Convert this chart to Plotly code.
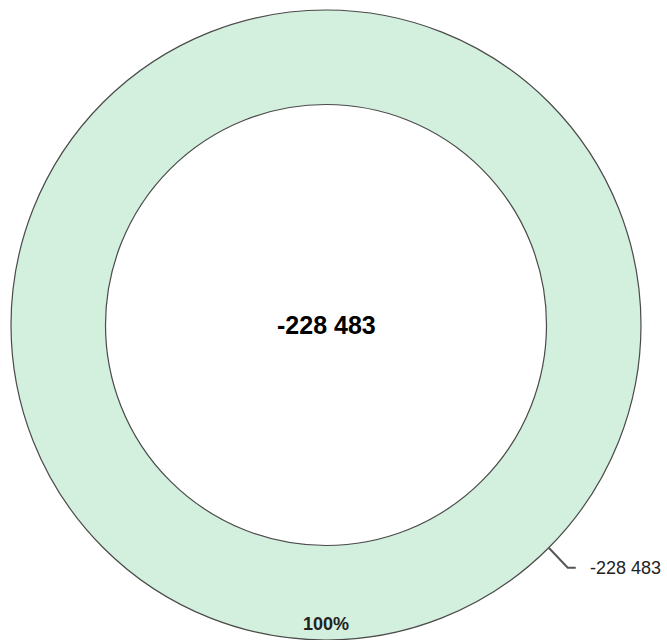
import math
import plotly.graph_objects as go

# ---- data ----
labels = ["Total"]
values = [-228483]
colors = ["#D3EFDD"]

# ---- layout geometry (pixels) ----
W, H = 667, 640
ML, MR, MT, MB = 10, 25, 10, 0
PW, PH = W - ML - MR, H - MT - MB
CX, CY = ML + PW / 2, MT + PH / 2
R = min(PW, PH) / 2
HOLE = 0.70


def fmt(v):
    s = f"{abs(v):,}".replace(",", " ")
    return ("-" if v < 0 else "") + s


def px(x, y):
    return (x - ML) / PW, 1 - (y - MT) / PH


total = sum(abs(v) for v in values)
pcts = [abs(v) / total * 100 for v in values]

fig = go.Figure(
    go.Pie(
        labels=labels,
        values=[abs(v) for v in values],
        hole=HOLE,
        sort=False,
        direction="clockwise",
        rotation=0,
        textinfo="none",
        marker=dict(colors=colors, line=dict(color="#4a4a4a", width=1.2)),
        showlegend=False,
        hoverinfo="skip",
    )
)

annotations = []
shapes = []
font = "Liberation Sans, Arial, sans-serif"

# centre total
cx_p, cy_p = px(CX, CY)
annotations.append(dict(x=cx_p, y=cy_p, xref="paper", yref="paper", text=f"<b>{fmt(sum(values))}</b>",
                        xanchor="center", yanchor="middle",
                        showarrow=False, font=dict(size=25, color="#000", family=font)))

# percentage label near outer edge, at slice mid-angle (bottom)
px_x, px_y = px(CX, CY + R - 16)
annotations.append(dict(x=px_x, y=px_y, xref="paper", yref="paper", text=f"<b>{pcts[0]:.0f}%</b>",
                        xanchor="center", yanchor="middle",
                        showarrow=False, font=dict(size=18, color="#222", family=font)))

# outside value label with leader line at 45 degrees
ang = math.radians(45)
x0, y0 = CX + R * math.cos(ang), CY + R * math.sin(ang)
x1, y1 = x0 + 19, y0 + 20
x2 = x1 + 8
p0, p1, p2 = px(x0, y0), px(x1, y1), px(x2, y1)
shapes.append(dict(type="path", xref="paper", yref="paper",
                   path=f"M {p0[0]} {p0[1]} L {p1[0]} {p1[1]} L {p2[0]} {p2[1]}",
                   line=dict(color="#555", width=2)))
lx, ly = px(x2 + 12, y1)
annotations.append(dict(x=lx, y=ly, xref="paper", yref="paper", text=fmt(values[0]),
                        xanchor="left", yanchor="middle",
                        showarrow=False, font=dict(size=18, color="#222", family=font)))

fig.update_layout(
    width=W, height=H,
    margin=dict(l=ML, r=MR, t=MT, b=MB),
    paper_bgcolor="white", plot_bgcolor="white",
    annotations=annotations, shapes=shapes,
)

fig.write_html(
    "out.html",
    config={"displayModeBar": False},
    post_script="document.body.style.margin='0';document.body.style.overflow='hidden';",
)
